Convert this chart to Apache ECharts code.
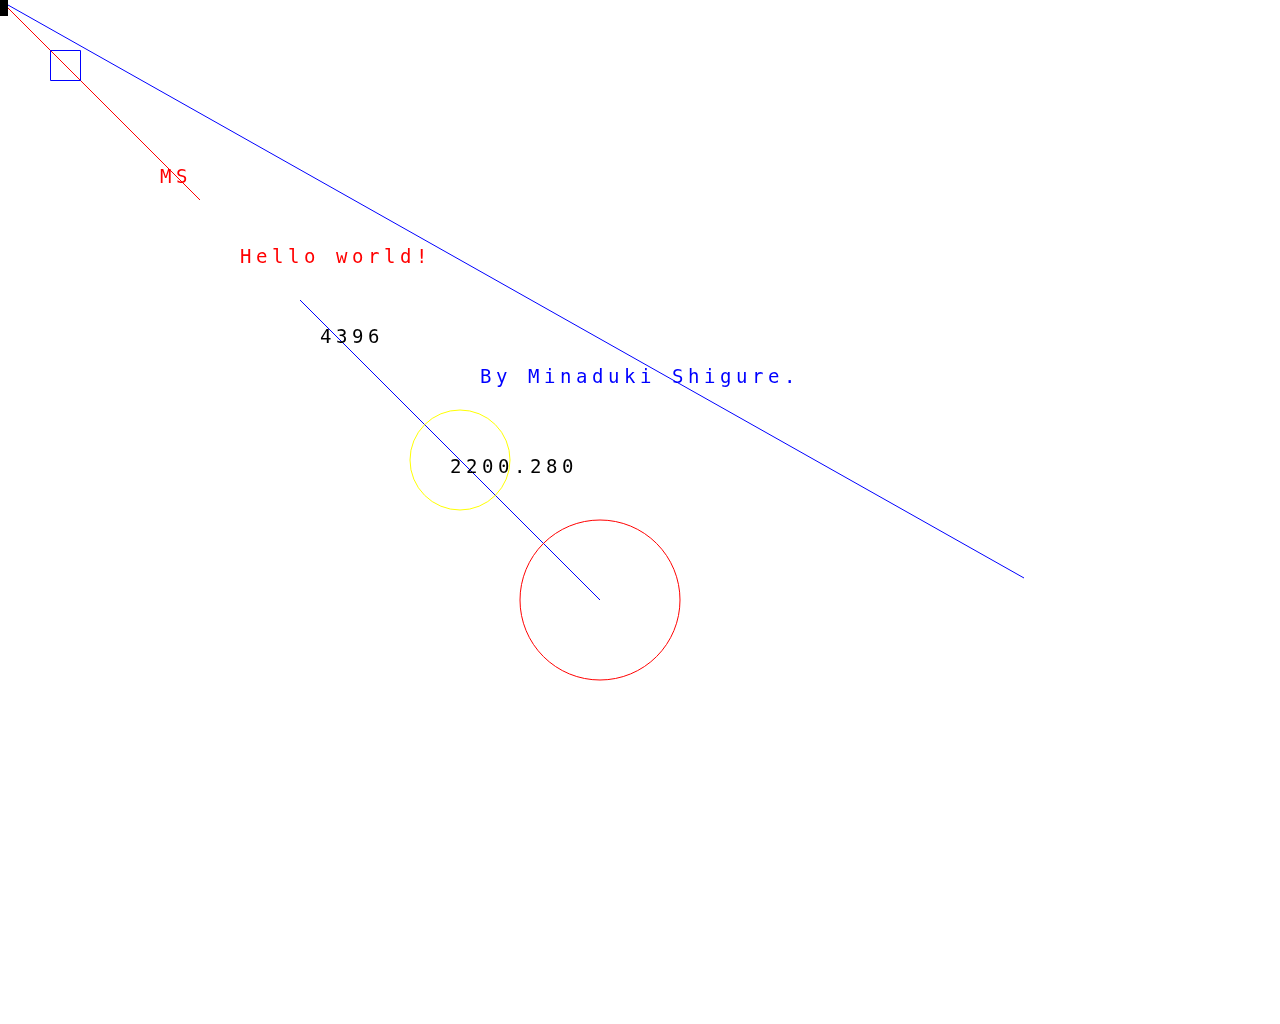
<!DOCTYPE html>
<html>
<head>
<meta charset="UTF-8">
<script src="https://cdn.jsdelivr.net/npm/echarts@6/dist/echarts.min.js"></script>
<style>html,body{margin:0;padding:0;background:#fff}</style>
</head>
<body>
<div id="main" style="width:1280px;height:1024px"></div>
<script>
// segments: x1, y1, x2, y2, colour
var segments = [
    [8, 8, 200, 200, 'red'],
    [8, 5, 1024, 578, 'blue'],
    [300, 300, 600, 600, 'blue']
];
// rects: x, y, w, h, colour, filled
var rects = [
    [0, 0, 8, 16, '#000', 1],
    [50, 50, 30, 30, 'blue', 0]
];
// circles: cx, cy, r, colour
var circles = [
    [460, 460, 50, 'yellow'],
    [600, 600, 80, 'red']
];
// labels: x, baseline y, text, colour
var labels = [
    [160, 184, 'MS', 'red'],
    [240, 264, 'Hello world!', 'red'],
    [320, 344, '4396', '#000'],
    [480, 384, 'By Minaduki Shigure.', 'blue'],
    [450, 474, '2200.280', '#000']
];
var pitch = 16;

var chart = echarts.init(document.getElementById('main'), null, {renderer: 'canvas'});
chart.setOption({
    animation: false,
    grid: {left: 0, right: 0, top: 0, bottom: 0},
    xAxis: {type: 'value', min: 0, max: 1280, show: false},
    yAxis: {type: 'value', min: 0, max: 1024, inverse: true, show: false},
    series: [
        {
            type: 'custom', data: segments,
            renderItem: function (params, api) {
                var a = api.coord([api.value(0), api.value(1)]);
                var b = api.coord([api.value(2), api.value(3)]);
                return {type: 'line', shape: {x1: a[0], y1: a[1], x2: b[0], y2: b[1]},
                    style: {stroke: segments[params.dataIndex][4], lineWidth: 1}};
            }
        },
        {
            type: 'custom', data: rects,
            renderItem: function (params, api) {
                var r = rects[params.dataIndex];
                var p = api.coord([r[0], r[1]]);
                var s = api.size([r[2], r[3]]);
                return {type: 'rect', shape: {x: p[0] + (r[5] ? 0 : 0.5), y: p[1] + (r[5] ? 0 : 0.5), width: s[0], height: s[1]},
                    style: r[5] ? {fill: r[4]} : {fill: 'none', stroke: r[4], lineWidth: 1}};
            }
        },
        {
            type: 'custom', data: circles,
            renderItem: function (params, api) {
                var c = circles[params.dataIndex];
                var p = api.coord([c[0], c[1]]);
                var s = api.size([c[2], c[2]]);
                return {type: 'circle', shape: {cx: p[0], cy: p[1], r: s[0]},
                    style: {fill: 'none', stroke: c[3], lineWidth: 1}};
            }
        },
        {
            type: 'custom', data: labels.map(function (l) { return [l[0], l[1]]; }),
            renderItem: function (params, api) {
                var l = labels[params.dataIndex];
                var p = api.coord([api.value(0), api.value(1)]);
                var kids = l[2].split('').map(function (ch, i) {
                    return {type: 'text', x: p[0] + i * pitch, y: p[1] + 4,
                        style: {text: ch, fill: l[3], font: '19px "DejaVu Sans Mono"', textVerticalAlign: 'bottom'}};
                });
                return {type: 'group', children: kids};
            }
        }
    ]
});
</script>
</body>
</html>
